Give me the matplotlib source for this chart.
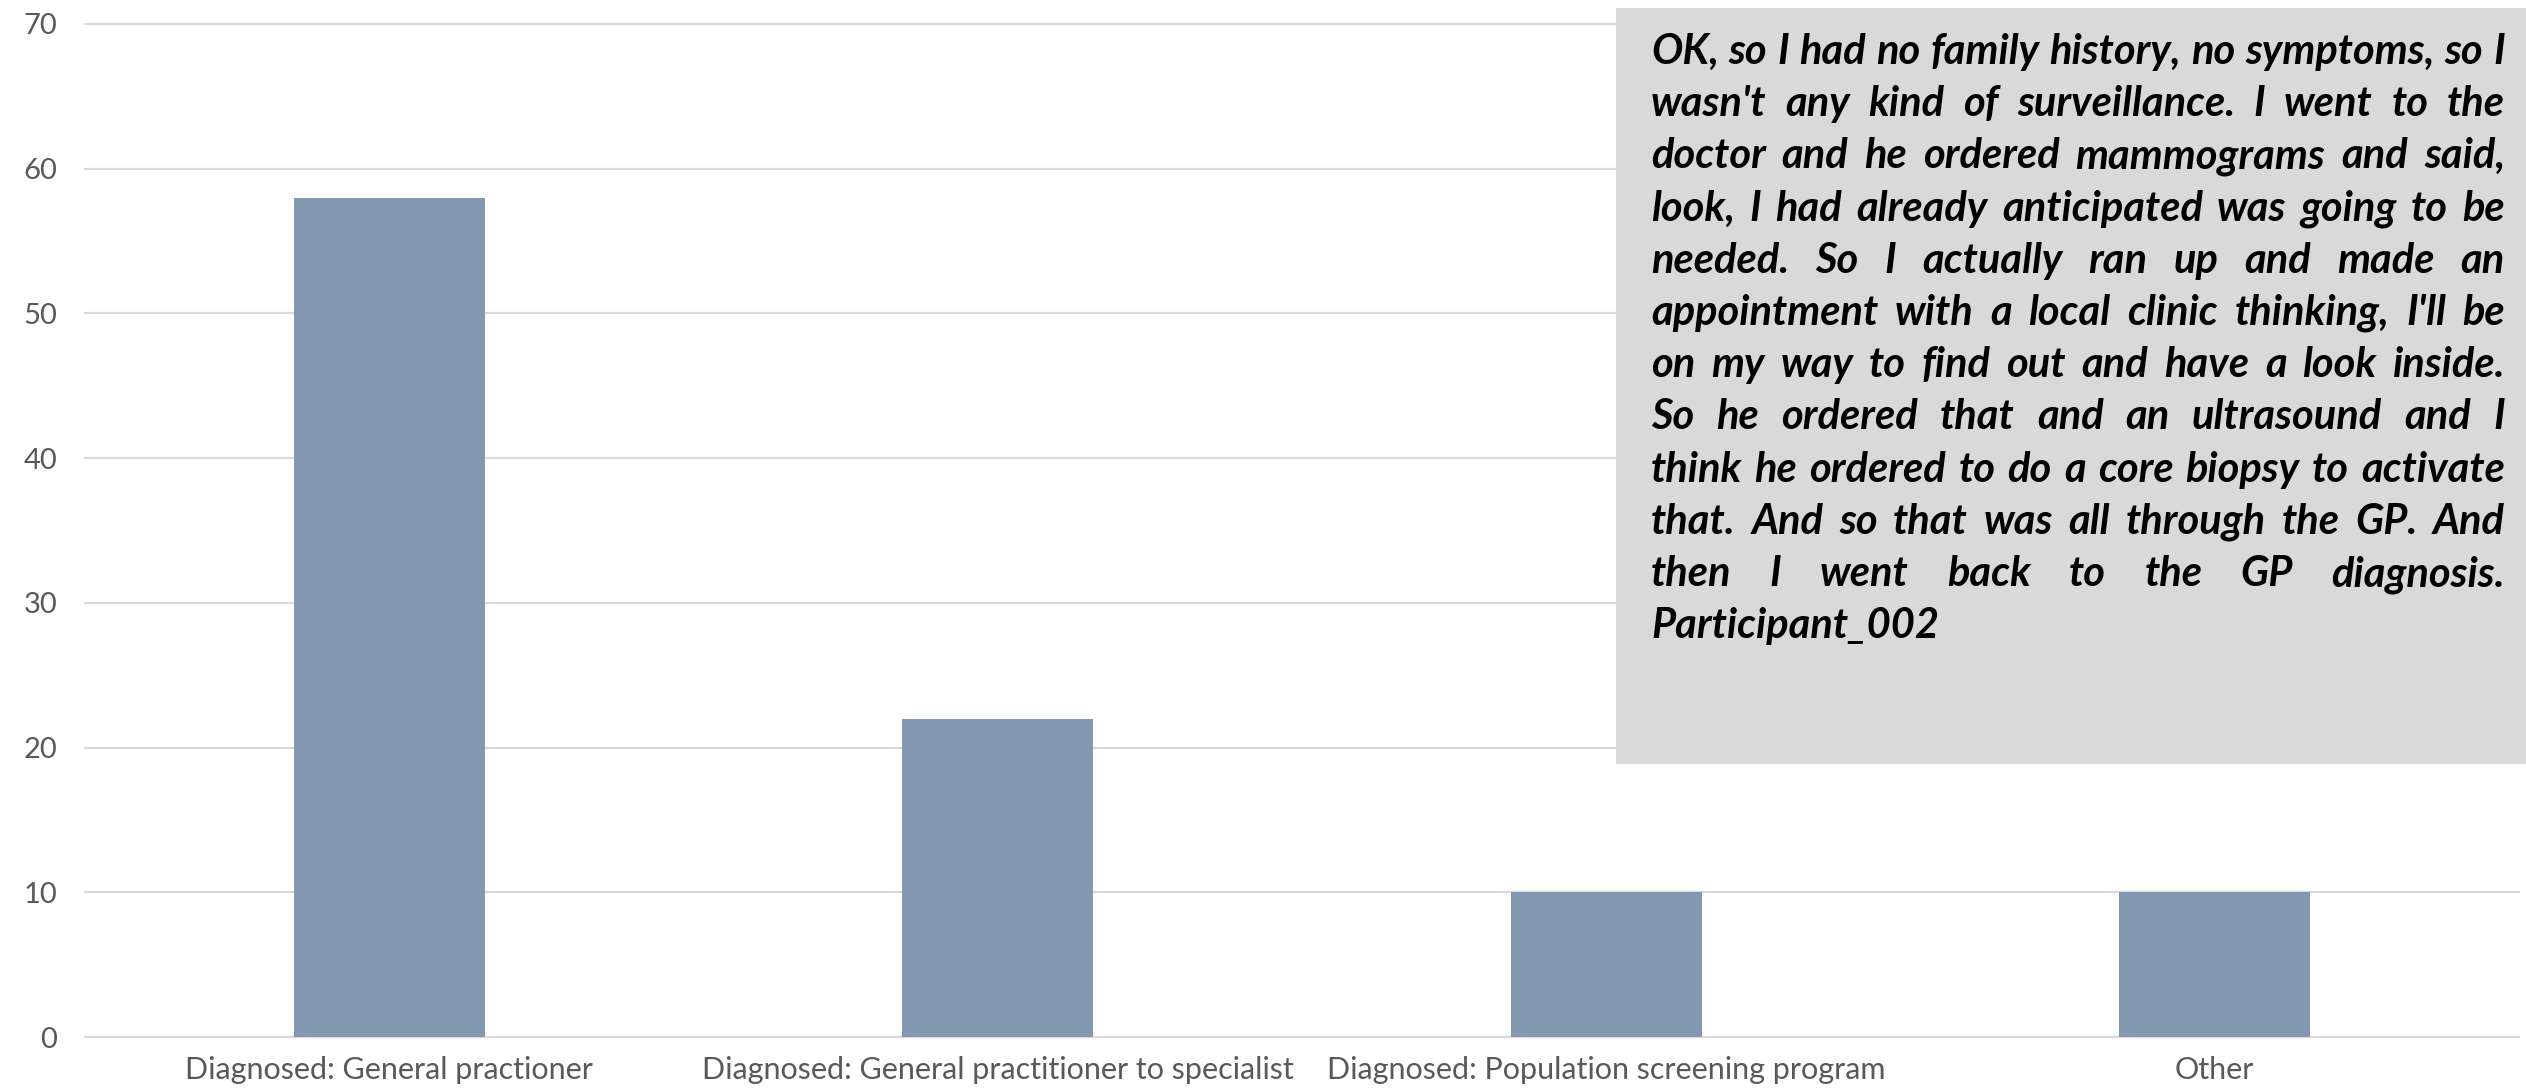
import matplotlib
matplotlib.use('Agg')
import matplotlib.pyplot as plt
from matplotlib.patches import Rectangle

# How participants were diagnosed (counts)
categories = ['Diagnosed: General practioner',
              'Diagnosed: General practitioner to specialist',
              'Diagnosed: Population screening program',
              'Other']
counts = [58, 22, 10, 10]
y_ticks = [0, 10, 20, 30, 40, 50, 60, 70]

quote_lines = [
    "OK, so I had no family history, no symptoms, so I",
    "wasn't any kind of surveillance. I went to the",
    "doctor and he ordered mammograms and said,",
    "look, I had already anticipated was going to be",
    "needed. So I actually ran up and made an",
    "appointment with a local clinic thinking, I'll be",
    "on my way to find out and have a look inside.",
    "So he ordered that and an ultrasound and I",
    "think he ordered to do a core biopsy to activate",
    "that. And so that was all through the GP. And",
    "then I went back to the GP diagnosis.",
    "Participant_002",
]

W, H = 2526, 1090
plt.rcParams['font.family'] = ['Lato', 'DejaVu Sans']

fig = plt.figure(figsize=(W / 100, H / 100), dpi=100)
ax = fig.add_axes([85 / W, 1 - 1037 / H, (2519 - 85) / W, (1037 - 24) / H])

x = range(len(categories))
ax.bar(x, counts, width=0.314, color='#8497B0', zorder=2)
ax.set_xlim(-0.5, len(categories) - 0.5)
ax.set_ylim(0, 70)
ax.set_yticks(y_ticks)
ax.set_xticks(list(x), categories)
ax.yaxis.grid(True, color='#D9D9D9', lw=1.6)
ax.set_axisbelow(True)
for line in ax.get_ygridlines():
    line.set_clip_on(False)
for s in ax.spines.values():
    s.set_visible(False)
ax.tick_params(length=0, colors='#595959')
ax.tick_params(axis='x', pad=14, labelsize=22)
ax.tick_params(axis='y', pad=20, labelsize=21)

# grey quote box in the upper right
box_l, box_r, box_t, box_b = 1616, W, 8, 764
fig.patches.append(Rectangle((box_l / W, 1 - box_b / H), (box_r - box_l) / W,
                             (box_b - box_t) / H, transform=fig.transFigure,
                             facecolor='#D9D9D9', edgecolor='none', zorder=5))

# justified quote text, word by word
text_l, text_r = 1651, 2505
base0, step = 64, 52.2
renderer = fig.canvas.get_renderer()


def text_width(s, size):
    t = fig.text(0, 0, s, fontsize=size, fontweight='bold', style='italic')
    w = t.get_window_extent(renderer).width
    t.remove()
    return w


# largest size at which every line fits with plain spaces
fsize = 32.0
while max(text_width(l, fsize) for l in quote_lines) > (text_r - text_l) and fsize > 10:
    fsize -= 0.5

space_w = text_width('a a', fsize) - text_width('aa', fsize)

for i, line in enumerate(quote_lines):
    words = line.split()
    widths = [text_width(w, fsize) for w in words]
    last = i == len(quote_lines) - 1
    if last or len(words) == 1:
        gap = space_w
    else:
        gap = (text_r - text_l - sum(widths)) / (len(words) - 1)
    xpos = text_l
    ybase = base0 + i * step
    for w, wd in zip(words, widths):
        fig.text(xpos / W, 1 - ybase / H, w, fontsize=fsize, fontweight='bold',
                 style='italic', color='black', ha='left', va='baseline', zorder=6)
        xpos += wd + gap

fig.savefig('out.png', dpi=100)
